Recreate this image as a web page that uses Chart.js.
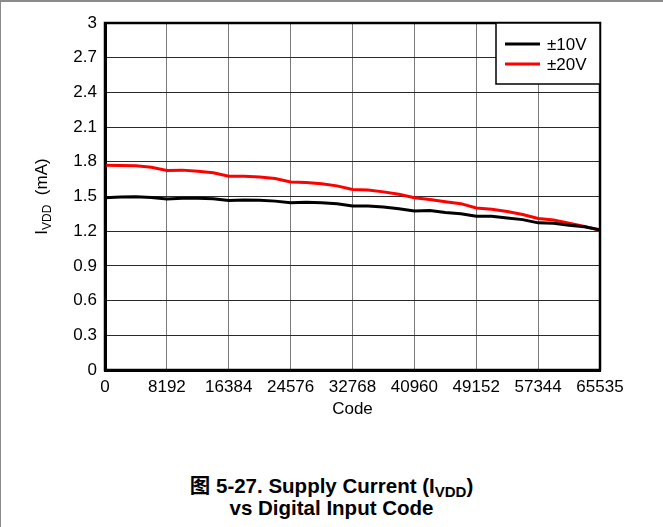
<!DOCTYPE html>
<html>
<head>
<meta charset="utf-8">
<title>Supply Current vs Digital Input Code</title>
<script src="https://cdn.jsdelivr.net/npm/chart.js@4.4.0/dist/chart.umd.min.js"></script>
<style>
    html, body {
        margin: 0;
        padding: 0;
        background: #fff;
    }
    #page {
        position: relative;
        width: 663px;
        height: 527px;
        overflow: hidden;
        box-sizing: border-box;
        border-top: 2px solid #8a8a8a;
        border-left: 1px solid #8a8a8a;
    }
    #chartBox {
        position: absolute;
        left: -1px;
        top: -2px;
        width: 663px;
        height: 420px;
    }
    #caption {
        position: absolute;
        left: -1px;
        top: 473px;
        width: 663px;
        text-align: center;
        font-family: "Liberation Sans", Arial, "Noto Sans CJK SC", sans-serif;
        font-weight: bold;
        font-size: 20.5px;
        line-height: 22px;
        color: #000;
    }
    #caption sub {
        font-size: 15px;
        vertical-align: -4px;
        line-height: 0;
    }
</style>
</head>
<body>
<div id="page">
    <div id="chartBox"><canvas id="supplyChart" width="663" height="420"></canvas></div>
    <div id="caption">图 5-27. Supply Current (I<sub>VDD</sub>)<br>vs Digital Input Code</div>
</div>

<script>
// Input codes (every 2048 codes)
const codes = [
    0, 2048, 4096, 6144, 8192, 10240, 12288, 14336,
    16384, 18432, 20480, 22528, 24576, 26624, 28672, 30720,
    32768, 34816, 36864, 38912, 40960, 43008, 45056, 47104,
    49152, 51200, 53248, 55296, 57344, 59392, 61440, 63488, 65535
];

// IVDD (mA) at ±10V supplies
const ivdd10V = [
    1.490, 1.495, 1.498, 1.492, 1.478, 1.484, 1.485, 1.480,
    1.466, 1.470, 1.468, 1.460, 1.445, 1.450, 1.445, 1.438,
    1.418, 1.418, 1.410, 1.395, 1.375, 1.378, 1.362, 1.350,
    1.330, 1.330, 1.315, 1.300, 1.272, 1.268, 1.252, 1.238, 1.212
];

// IVDD (mA) at ±20V supplies
const ivdd20V = [
    1.770, 1.768, 1.765, 1.752, 1.725, 1.728, 1.718, 1.705,
    1.675, 1.676, 1.668, 1.655, 1.625, 1.622, 1.610, 1.592,
    1.560, 1.556, 1.540, 1.520, 1.490, 1.475, 1.455, 1.438,
    1.400, 1.390, 1.370, 1.345, 1.310, 1.296, 1.270, 1.240, 1.208
];

const seriesLabels = ['±10V', '±20V'];
const seriesColors = ['#000000', '#ff0000'];

// Axis ticks
const xTicks = [0, 8192, 16384, 24576, 32768, 40960, 49152, 57344, 65535];
const yTicks = [0, 0.3, 0.6, 0.9, 1.2, 1.5, 1.8, 2.1, 2.4, 2.7, 3];

const FONT = '"Liberation Sans", Arial, sans-serif';

let supplyChart = null;

function toPoints(values) {
    return codes.map((c, i) => ({ x: c, y: values[i] }));
}

/**
 * Y axis title with the VDD subscript, drawn rotated left of the axis
 */
const yTitlePlugin = {
    id: 'yTitle',
    afterDraw(chart) {
        const ctx = chart.ctx;
        const area = chart.chartArea;
        const cy = (area.top + area.bottom) / 2;
        const parts = [
            { text: 'I', size: 17, dy: 6 },
            { text: 'VDD', size: 12, dy: 10 },
            { text: '  (mA)', size: 17, dy: 6 }
        ];
        ctx.save();
        ctx.translate(41, cy);
        ctx.rotate(-Math.PI / 2);
        ctx.fillStyle = '#000';
        ctx.textBaseline = 'alphabetic';
        ctx.textAlign = 'left';
        let total = 0;
        parts.forEach(p => {
            ctx.font = p.size + 'px ' + FONT;
            p.w = ctx.measureText(p.text).width;
            total += p.w;
        });
        let x = -total / 2;
        parts.forEach(p => {
            ctx.font = p.size + 'px ' + FONT;
            ctx.fillText(p.text, x, p.dy);
            x += p.w;
        });
        ctx.restore();
    }
};

/**
 * Plot frame plus boxed legend in the top right corner
 */
const frameLegendPlugin = {
    id: 'frameLegend',
    afterDatasetsDraw(chart) {
        const ctx = chart.ctx;
        const area = chart.chartArea;
        ctx.save();

        // frame
        ctx.strokeStyle = '#000';
        ctx.lineWidth = 2.5;
        ctx.strokeRect(area.left, area.top, area.right - area.left, area.bottom - area.top);

        // legend box
        const boxW = 104;
        const boxH = 61;
        const bx = area.right - boxW;
        const by = area.top;
        ctx.fillStyle = '#fff';
        ctx.fillRect(bx, by, boxW, boxH);
        ctx.lineWidth = 1.5;
        ctx.strokeRect(bx, by, boxW, boxH);

        ctx.font = '17px ' + FONT;
        ctx.textBaseline = 'middle';
        ctx.textAlign = 'left';
        chart.data.datasets.forEach((ds, i) => {
            const y = by + 21 + i * 20;
            ctx.strokeStyle = ds.borderColor;
            ctx.lineWidth = 3;
            ctx.beginPath();
            ctx.moveTo(bx + 9, y);
            ctx.lineTo(bx + 44, y);
            ctx.stroke();
            ctx.fillStyle = '#000';
            ctx.fillText(ds.label, bx + 51, y + 1);
        });
        ctx.restore();
    }
};

function initSupplyChart() {
    const canvas = document.getElementById('supplyChart');
    if (!canvas) {
        console.error('Chart canvas not found');
        return;
    }
    const ctx = canvas.getContext('2d');

    if (supplyChart) {
        supplyChart.destroy();
    }

    supplyChart = new Chart(ctx, {
        type: 'line',
        data: {
            datasets: [
                {
                    label: seriesLabels[0],
                    data: toPoints(ivdd10V),
                    borderColor: seriesColors[0],
                    borderWidth: 3,
                    pointRadius: 0,
                    tension: 0,
                    fill: false
                },
                {
                    label: seriesLabels[1],
                    data: toPoints(ivdd20V),
                    borderColor: seriesColors[1],
                    borderWidth: 3,
                    pointRadius: 0,
                    tension: 0,
                    fill: false
                }
            ]
        },
        options: {
            responsive: false,
            animation: false,
            layout: {
                padding: { top: 23, right: 63, bottom: 0, left: 0 }
            },
            plugins: {
                legend: { display: false },
                tooltip: { enabled: false }
            },
            scales: {
                x: {
                    type: 'linear',
                    min: 0,
                    max: 65535,
                    afterBuildTicks: scale => {
                        scale.ticks = xTicks.map(v => ({ value: v }));
                    },
                    afterFit: scale => {
                        scale.height = 50;
                    },
                    ticks: {
                        color: '#000',
                        padding: 7,
                        maxRotation: 0,
                        autoSkip: false,
                        font: { family: FONT, size: 17 },
                        callback: value => String(value)
                    },
                    grid: {
                        color: '#7a7a7a',
                        lineWidth: 1,
                        drawTicks: false
                    },
                    border: { color: '#000', width: 3 },
                    title: {
                        display: true,
                        text: 'Code',
                        color: '#000',
                        padding: 0,
                        font: { family: FONT, size: 17 }
                    }
                },
                y: {
                    min: 0,
                    max: 3,
                    afterBuildTicks: scale => {
                        scale.ticks = yTicks.map(v => ({ value: v }));
                    },
                    afterFit: scale => {
                        scale.width = 105;
                    },
                    ticks: {
                        color: '#000',
                        padding: 8,
                        autoSkip: false,
                        font: { family: FONT, size: 17 },
                        callback: value => String(Math.round(value * 10) / 10)
                    },
                    grid: {
                        color: '#2a2a2a',
                        lineWidth: 1,
                        drawTicks: false
                    },
                    border: { color: '#000', width: 3 }
                }
            }
        },
        plugins: [yTitlePlugin, frameLegendPlugin]
    });
}

document.addEventListener('DOMContentLoaded', initSupplyChart);
</script>
</body>
</html>
